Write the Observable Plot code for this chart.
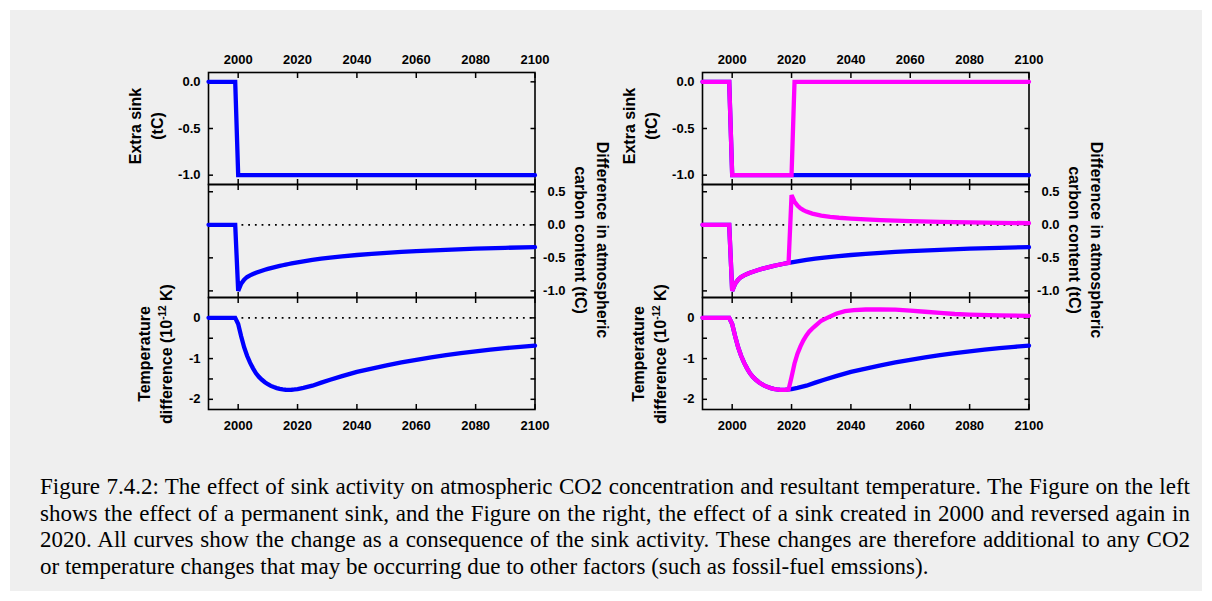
<!DOCTYPE html>
<html><head><meta charset="utf-8">
<script src="https://cdn.jsdelivr.net/npm/d3@7"></script>
<script src="https://cdn.jsdelivr.net/npm/@observablehq/plot@0.6"></script>
<style>
html,body{margin:0;padding:0;background:#fff;}
#page{position:relative;width:1212px;height:601px;overflow:hidden;background:#fff;}
#box{position:absolute;left:10px;top:10px;width:1192px;height:581px;background:#efefef;}
.panel{position:absolute;}
.panel svg{display:block;overflow:visible;background:transparent;}
.ylab{position:absolute;font-family:"Liberation Sans",Arial,sans-serif;font-weight:bold;font-size:16px;line-height:22px;text-align:center;white-space:nowrap;color:#000;transform:translate(-50%,-50%) rotate(-90deg);}
.ylab.r{transform:translate(-50%,-50%) rotate(90deg);}
.ylab sup{font-size:10px;line-height:0;}
#caption{position:absolute;left:40px;top:474px;width:1150px;font-family:"Liberation Serif","Times New Roman",serif;font-size:23px;line-height:26.5px;color:#000;}
#caption div{text-align:justify;text-align-last:justify;white-space:nowrap;}
#caption div.last{text-align-last:left;}
</style>
</head><body>
<div id="page"><div id="box"></div>
<div id="caption">
<div>Figure 7.4.2: The effect of sink activity on atmospheric CO2 concentration and resultant temperature. The Figure on the left</div>
<div>shows the effect of a permanent sink, and the Figure on the right, the effect of a sink created in 2000 and reversed again in</div>
<div>2020. All curves show the change as a consequence of the sink activity. These changes are therefore additional to any CO2</div>
<div class="last">or temperature changes that may be occurring due to other factors (such as fossil-fuel emssions).</div>
</div>
</div>
<script>
// ---------- data ----------
const xDomain = [1990, 2100];
const xTicks = [2000, 2020, 2040, 2060, 2080, 2100];

const sinkTicks = [0, -0.5, -1.0];
const carbonTicks = [0.5, 0, -0.5, -1.0];
const tempTicks = [0, -1, -2];
const tempMinorTicks = [-0.5, -1.5];

// Extra sink (tC)
const sinkYearsPermanent = [1990, 1999, 2000, 2100];
const sinkPermanent = [0, 0, -1, -1];
const sinkYearsReversed = [1990, 1999, 2000, 2020, 2021, 2100];
const sinkReversed = [0, 0, -1, -1, 0, 0];

// Difference in atmospheric carbon content (tC)
const carbonYearsPermanent = [1990, 1999, 2000, 2001, 2002, 2003, 2004, 2005, 2006, 2007, 2008, 2009, 2010,
  2011, 2012, 2013, 2014, 2015, 2016, 2017, 2018, 2019, 2020, 2022, 2025, 2028, 2031, 2035, 2040, 2045,
  2050, 2055, 2060, 2070, 2080, 2090, 2100];
const carbonPermanent = [0, 0, -1.00, -0.89, -0.83, -0.79, -0.765, -0.745, -0.726, -0.709, -0.694, -0.68, -0.667,
  -0.655, -0.643, -0.632, -0.622, -0.612, -0.602, -0.593, -0.584, -0.576, -0.568, -0.553, -0.532, -0.513, -0.497,
  -0.478, -0.457, -0.44, -0.425, -0.411, -0.399, -0.378, -0.361, -0.348, -0.337];
const carbonYearsReversed = [1990, 1999, 2000, 2001, 2002, 2003, 2004, 2005, 2006, 2007, 2008, 2009, 2010,
  2011, 2012, 2013, 2014, 2015, 2016, 2017, 2018, 2019, 2020, 2021, 2022, 2023, 2024, 2025, 2027, 2030, 2033,
  2036, 2040, 2045, 2050, 2060, 2070, 2080, 2090, 2100];
const carbonReversed = [0, 0, -1.00, -0.89, -0.83, -0.79, -0.765, -0.745, -0.726, -0.709, -0.694, -0.68, -0.667,
  -0.655, -0.643, -0.632, -0.622, -0.612, -0.602, -0.593, -0.584, -0.576, 0.45, 0.35, 0.29, 0.25, 0.222, 0.20,
  0.17, 0.14, 0.12, 0.107, 0.095, 0.082, 0.072, 0.057, 0.045, 0.036, 0.03, 0.025];

// Temperature difference (10^-12 K)
const tempYearsPermanent = [1990, 1999, 2000, 2001, 2002, 2003, 2004, 2005, 2006, 2007, 2008, 2009, 2010,
  2011, 2012, 2013, 2014, 2015, 2016, 2017, 2018, 2019, 2020, 2022, 2025, 2028, 2031, 2035, 2040, 2045, 2050,
  2055, 2060, 2065, 2070, 2075, 2080, 2085, 2090, 2095, 2100];
const tempPermanent = [0, 0, -0.15, -0.45, -0.72, -0.93, -1.10, -1.24, -1.36, -1.45, -1.52, -1.58, -1.63,
  -1.67, -1.70, -1.725, -1.745, -1.757, -1.765, -1.768, -1.765, -1.758, -1.748, -1.72, -1.665, -1.59, -1.52,
  -1.43, -1.325, -1.245, -1.165, -1.095, -1.03, -0.97, -0.915, -0.865, -0.82, -0.78, -0.745, -0.712, -0.68];
const tempYearsReversed = [1990, 1999, 2000, 2001, 2002, 2003, 2004, 2005, 2006, 2007, 2008, 2009, 2010,
  2011, 2012, 2013, 2014, 2015, 2016, 2017, 2018, 2019, 2020, 2021, 2022, 2023, 2024, 2025, 2026, 2027, 2028,
  2030, 2032, 2035, 2038, 2041, 2045, 2050, 2055, 2060, 2065, 2070, 2075, 2080, 2090, 2100];
const tempReversed = [0, 0, -0.15, -0.45, -0.72, -0.93, -1.10, -1.24, -1.36, -1.45, -1.52, -1.58, -1.63,
  -1.67, -1.70, -1.725, -1.745, -1.757, -1.765, -1.768, -1.765, -1.758, -1.45, -1.12, -0.88, -0.70, -0.55,
  -0.43, -0.335, -0.26, -0.195, -0.07, 0.0, 0.10, 0.165, 0.19, 0.205, 0.21, 0.2, 0.18, 0.15, 0.12, 0.095,
  0.08, 0.06, 0.05];

const blue = "#0000ff";
const magenta = "#ff00ff";

// ---------- drawing ----------
const page = document.getElementById("page");
const zip = (xs, ys) => xs.map((x, i) => ({year: x, value: ys[i]}));
const noText = () => "";
const fmt1 = d => d.toFixed(1);
const fmt0 = d => String(d);

function drawPanel(o) {
  const marks = [
    Plot.frame({stroke: "#000", strokeWidth: 1.6}),
    Plot.axisX({anchor: "top", ticks: xTicks, tickSize: -5, tickPadding: 14,
      tickFormat: o.topLabels ? fmt0 : noText, label: null, strokeWidth: 1.5}),
    Plot.axisX({anchor: "bottom", ticks: xTicks, tickSize: -5, tickPadding: 16,
      tickFormat: o.bottomLabels ? fmt0 : noText, label: null, strokeWidth: 1.5}),
    Plot.axisY({anchor: "left", ticks: o.yTicks, tickSize: -5, tickPadding: 13,
      tickFormat: o.leftLabels ? o.fmt : noText, label: null, strokeWidth: 1.5}),
    Plot.axisY({anchor: "right", ticks: o.yTicks, tickSize: -5, tickPadding: 35.5, textAnchor: "end",
      tickFormat: o.rightLabels ? o.fmt : noText, label: null, strokeWidth: 1.5})
  ];
  if (o.minor) {
    marks.push(Plot.axisY({anchor: "left", ticks: o.minor, tickSize: -5, tickFormat: noText, label: null, strokeWidth: 1.5}));
    marks.push(Plot.axisY({anchor: "right", ticks: o.minor, tickSize: -5, tickFormat: noText, label: null, strokeWidth: 1.5}));
  }
  if (o.zero) marks.push(Plot.ruleY([0], {stroke: "#000", strokeWidth: 1.8, strokeDasharray: "1.8,4.9"}));
  for (const s of o.series) {
    marks.push(Plot.line(zip(s.years, s.values), {x: "year", y: "value", stroke: s.color,
      strokeWidth: 4.3, strokeLinejoin: "miter", strokeMiterlimit: 3}));
  }
  const svg = Plot.plot({
    width: 540, height: o.height,
    marginLeft: 108, marginRight: 105.5, marginTop: o.mt, marginBottom: o.mb,
    x: {domain: xDomain},
    y: {domain: o.yDomain},
    style: {fontFamily: "'Liberation Sans', Arial, sans-serif", fontSize: "13px", fontWeight: "bold",
      overflow: "visible", background: "transparent", color: "#000"},
    marks
  });
  const div = document.createElement("div");
  div.className = "panel";
  div.style.left = o.left + "px";
  div.style.top = o.top + "px";
  div.appendChild(svg);
  page.appendChild(div);
}

function addLabel(html, x, y, right) {
  const d = document.createElement("div");
  d.className = "ylab" + (right ? " r" : "");
  d.style.left = x + "px";
  d.style.top = y + "px";
  d.innerHTML = html;
  page.appendChild(d);
}

const figures = [
  {dx: 0, sink: [{years: sinkYearsPermanent, values: sinkPermanent, color: blue}],
   carbon: [{years: carbonYearsPermanent, values: carbonPermanent, color: blue}],
   temp: [{years: tempYearsPermanent, values: tempPermanent, color: blue}]},
  {dx: 494, sink: [{years: sinkYearsPermanent, values: sinkPermanent, color: blue},
                   {years: sinkYearsReversed, values: sinkReversed, color: magenta}],
   carbon: [{years: carbonYearsPermanent, values: carbonPermanent, color: blue},
            {years: carbonYearsReversed, values: carbonReversed, color: magenta}],
   temp: [{years: tempYearsPermanent, values: tempPermanent, color: blue},
          {years: tempYearsReversed, values: tempReversed, color: magenta}]}
];

for (const f of figures) {
  const left = 100 + f.dx;
  drawPanel({left, top: 30, height: 154, mt: 42, mb: 0, yDomain: [-1.1, 0.1], yTicks: sinkTicks, fmt: fmt1,
    topLabels: true, leftLabels: true, series: f.sink});
  drawPanel({left, top: 184, height: 113, mt: 0, mb: 0, yDomain: [-1.1, 0.61], yTicks: carbonTicks, fmt: fmt1,
    rightLabels: true, zero: true, series: f.carbon});
  drawPanel({left, top: 297, height: 150, mt: 0, mb: 38, yDomain: [-2.25, 0.5], yTicks: tempTicks, fmt: fmt0,
    minor: tempMinorTicks, bottomLabels: true, leftLabels: true, zero: true, series: f.temp});
  addLabel("Extra sink<br>(tC)", 147 + f.dx, 126, false);
  addLabel("Temperature<br>difference (10<sup>-12</sup> K)", 156 + f.dx, 354, false);
  addLabel("Difference in atmospheric<br>carbon content (tC)", 591 + f.dx, 240, true);
}
</script>
</body></html>
